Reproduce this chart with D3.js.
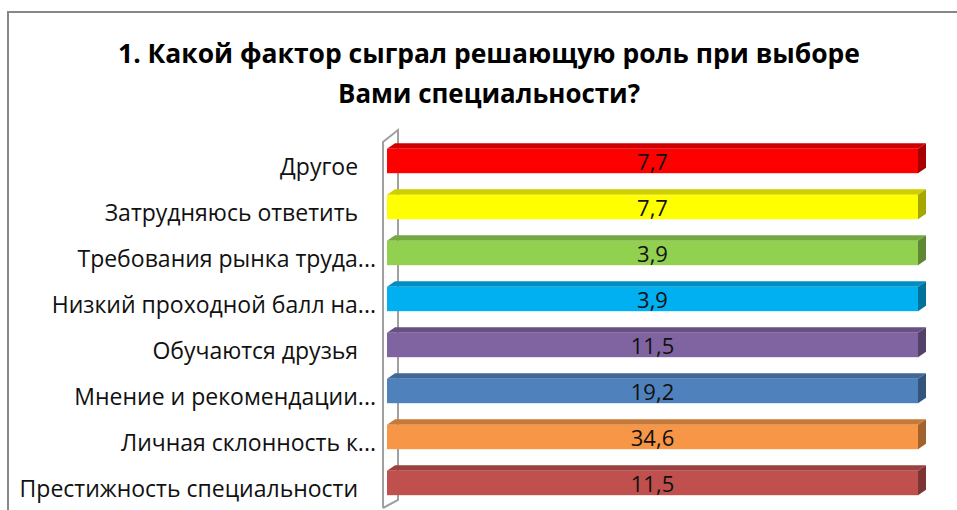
<!DOCTYPE html>
<html>
<head>
<meta charset="utf-8">
<title>Какой фактор сыграл решающую роль</title>
<script src="https://d3js.org/d3.v7.min.js"></script>
<style>
  body { margin: 0; background: #fff; }
  svg { display: block; font-family: "Open Sans", "Noto Sans", sans-serif; }
</style>
</head>
<body>
<svg></svg>
<script>
// data, top bar first
var categories = ["Другое\u00a0\u00a0\u00a0",
                  "Затрудняюсь ответить\u00a0\u00a0\u00a0",
                  "Требования рынка труда...",
                  "Низкий проходной балл на...",
                  "Обучаются друзья\u00a0\u00a0\u00a0",
                  "Мнение и рекомендации...",
                  "Личная склонность к...",
                  "Престижность специальности\u00a0\u00a0\u00a0"];
var values = [7.7, 7.7, 3.9, 3.9, 11.5, 19.2, 34.6, 11.5];
var colors = ["#FF0000", "#FFFF00", "#92D050", "#00B0F0",
              "#8064A2", "#4F81BD", "#F79646", "#C0504D"];
var titleLines = ["1. Какой фактор сыграл решающую роль при выборе",
                  "Вами специальности?"];

var width = 957, height = 510;
var svg = d3.select("svg").attr("width", width).attr("height", height);

// each category is a 100% stacked bar of its own
var rows = categories.map(function (c, i) { return { cat: c, value: values[i] }; });
var stacked = d3.stack().keys(["value"]).offset(d3.stackOffsetExpand)(rows)[0];

var x = d3.scaleLinear().domain([0, 1]).range([387, 918]);
var y = d3.scaleBand().domain(categories).range([138, 506])
    .paddingInner(0.47).paddingOuter(0.235);

var dx = 8, dy = -5.5;   // bar depth
var fmt = function (v) { return String(v).replace(".", ","); };

// chart border (top + left visible)
svg.append("path")
    .attr("d", "M8," + (height + 5) + "V12H" + (width + 5))
    .attr("fill", "none").attr("stroke", "#888").attr("stroke-width", 2);

// title
svg.append("g").selectAll("text")
    .data(titleLines).enter().append("text")
    .attr("x", 489).attr("y", function (d, i) { return 63 + i * 40; })
    .attr("text-anchor", "middle")
    .attr("font-size", 26).attr("font-weight", "bold").attr("fill", "#000")
    .attr("textLength", function (d, i) { return i ? 302 : 742; })
    .attr("lengthAdjust", "spacingAndGlyphs")
    .text(function (d) { return d; });

// side wall of the 3d plot
var wx0 = x(0) - 4, wx1 = x(0) + 11;
var wTop = y.range()[0] + 4, wBot = y.range()[1] + 2;
svg.append("path")
    .attr("d", "M" + wx0 + "," + wBot + "V" + wTop + "L" + wx1 + "," + (wTop - 12) +
               "V" + (wBot - 8) + "L" + wx0 + "," + wBot)
    .attr("fill", "#fff").attr("stroke", "#a0a0a0").attr("stroke-width", 2);

// bars
var bars = svg.append("g").selectAll("g")
    .data(stacked).enter().append("g");

bars.append("path")  // top face
    .attr("d", function (d) {
        var x0 = x(d[0]), x1 = x(d[1]), yy = y(d.data.cat);
        return "M" + x0 + "," + yy + "L" + (x0 + dx) + "," + (yy + dy) +
               "L" + (x1 + dx) + "," + (yy + dy) + "L" + x1 + "," + yy + "Z";
    })
    .attr("fill", function (d, i) { return d3.color(colors[i]).darker(0.6); });

bars.append("path")  // side face
    .attr("d", function (d) {
        var x1 = x(d[1]), yy = y(d.data.cat), h = y.bandwidth();
        return "M" + x1 + "," + yy + "L" + (x1 + dx) + "," + (yy + dy) +
               "L" + (x1 + dx) + "," + (yy + h + dy) + "L" + x1 + "," + (yy + h) + "Z";
    })
    .attr("fill", function (d, i) { return d3.color(colors[i]).darker(1.2); });

bars.append("rect")  // front face
    .attr("x", function (d) { return x(d[0]); })
    .attr("y", function (d) { return y(d.data.cat); })
    .attr("width", function (d) { return x(d[1]) - x(d[0]); })
    .attr("height", y.bandwidth())
    .attr("fill", function (d, i) { return colors[i]; });

bars.append("text")
    .attr("x", function (d) { return (x(d[0]) + x(d[1])) / 2; })
    .attr("y", function (d) { return y(d.data.cat) + y.bandwidth() / 2; })
    .attr("dy", "0.4em")
    .attr("text-anchor", "middle")
    .attr("font-size", 22).attr("fill", "#111")
    .text(function (d) { return fmt(d.data.value); });

// category axis
var axis = d3.axisLeft(y).tickSize(0).tickPadding(0);
var ga = svg.append("g").attr("transform", "translate(376,0)").call(axis);
ga.select(".domain").remove();
ga.selectAll("text")
    .attr("font-size", 23).attr("fill", "#111")
    .attr("font-family", "'Open Sans', 'Noto Sans', sans-serif")
    .attr("dy", "0.6em");
</script>
</body>
</html>
